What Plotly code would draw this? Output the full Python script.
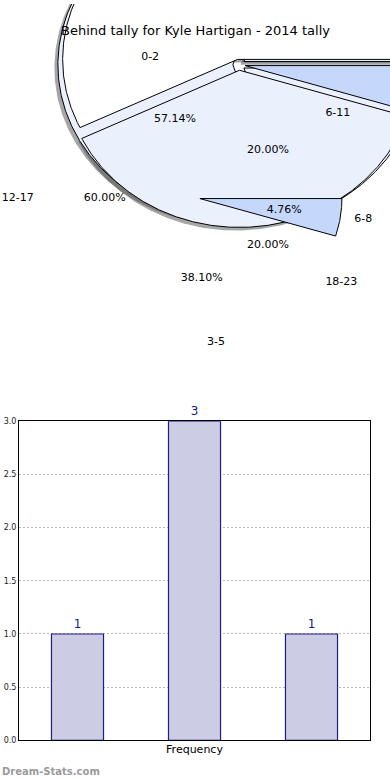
import numpy as np
import plotly.graph_objects as go

# ---------------- data ----------------
title_text = "Behind tally for Kyle Hartigan - 2014 tally"
pie1_labels = ["0-2", "3-5", "6-8"]
pie1_values = [12, 8, 1]
pie2_labels = ["6-11", "12-17", "18-23"]
pie2_values = [1, 3, 1]
bar_categories = ["6-11", "12-17", "18-23"]
bar_values = [1, 3, 1]
y_tick_values = [0.0, 0.5, 1.0, 1.5, 2.0, 2.5, 3.0]
x_axis_title = "Frequency"
watermark = "Dream-Stats.com"

# ---------------- styles ----------------
FONT = "DejaVu Sans"
WHITE = "#ffffff"
LIGHT = "#eaf0fc"
BLUE = "#c5d8fc"
pie1_big_colors = [WHITE, LIGHT, BLUE]
pie2_big_colors = [LIGHT, LIGHT, LIGHT]
pie1_small_colors = [None, None, BLUE]
EXPLODE = 0.035
LABEL_DIST = 1.1
PCT_DIST = 0.6

# pie geometry (top panel uses pixel-like units, y downward)
BIG = dict(cx=239, cy=65, rx=175, ry=157)
SMALL = dict(cx=195, cy=198, rx=142, ry=127)
SHADOW_DX, SHADOW_DY = -0.02, 0.02


def wedges(values, cx, cy, rx, ry, explode):
    total = float(sum(values))
    start = 0.0
    out = []
    for v in values:
        t1 = start
        t2 = start + 360.0 * v / total
        mid = np.radians((t1 + t2) / 2)
        ex = cx + explode * rx * np.cos(mid)
        ey = cy - explode * ry * np.sin(mid)
        ts = np.radians(np.linspace(t1, t2, max(8, int((t2 - t1) * 2))))
        xs = np.concatenate([[ex], ex + rx * np.cos(ts), [ex]])
        ys = np.concatenate([[ey], ey - ry * np.sin(ts), [ey]])
        out.append(dict(x=xs, y=ys, mid=mid, ex=ex, ey=ey, frac=v / total))
        start = t2
    return out


fig = go.Figure()


def add_poly(xs, ys, fill, line_color, width):
    fig.add_trace(go.Scatter(
        x=xs, y=ys, mode="lines", fill="toself", fillcolor=fill,
        line=dict(color=line_color, width=width), xaxis="x", yaxis="y",
        hoverinfo="skip", showlegend=False))


big1 = wedges(pie1_values, **BIG, explode=EXPLODE)
big2 = wedges(pie2_values, **BIG, explode=EXPLODE)
small1 = wedges(pie1_values, **SMALL, explode=EXPLODE)
small2 = wedges(pie2_values, **SMALL, explode=EXPLODE)

# shadows
for w in big2 + big1:
    add_poly(w["x"] + SHADOW_DX * BIG["rx"], w["y"] + SHADOW_DY * BIG["ry"],
             "rgba(77,77,77,0.5)", "rgba(0,0,0,0)", 0)
# pie 2 (behind) and pie 1 (front), large rendering
for w, c in zip(big2, pie2_big_colors):
    add_poly(w["x"], w["y"], c, "#000000", 1)
for w, c in zip(big1, pie1_big_colors):
    add_poly(w["x"], w["y"], c, "#000000", 1)
# small rendering of pie 1 (only visible wedge)
for w, c in zip(small1, pie1_small_colors):
    if c is not None:
        add_poly(w["x"], w["y"], c, "#000000", 1)


def add_labels(ws, labels, geo):
    for w, lab in zip(ws, labels):
        cos, sin = np.cos(w["mid"]), np.sin(w["mid"])
        lx = w["ex"] + LABEL_DIST * geo["rx"] * cos
        ly = w["ey"] - LABEL_DIST * geo["ry"] * sin
        px = w["ex"] + PCT_DIST * geo["rx"] * cos
        py = w["ey"] - PCT_DIST * geo["ry"] * sin
        pos = "middle right" if cos > 0 else "middle left"
        fig.add_trace(go.Scatter(
            x=[lx], y=[ly], mode="text", text=[lab], textposition=pos,
            textfont=dict(family=FONT, size=11, color="#000000"),
            xaxis="x", yaxis="y", cliponaxis=False, hoverinfo="skip",
            showlegend=False))
        fig.add_trace(go.Scatter(
            x=[px], y=[py], mode="text", text=["%.2f%%" % (100 * w["frac"])],
            textposition="middle center",
            textfont=dict(family=FONT, size=11, color="#000000"),
            xaxis="x", yaxis="y", cliponaxis=False, hoverinfo="skip",
            showlegend=False))


add_labels(small1, pie1_labels, SMALL)
add_labels(small2, pie2_labels, SMALL)

# ---------------- bar chart ----------------
fig.add_trace(go.Bar(
    x=list(range(len(bar_values))), y=bar_values, width=0.445,
    marker=dict(color="#ccccE5", line=dict(color="#1a1a8c", width=1.2)),
    text=[str(v) for v in bar_values], textposition="outside",
    textfont=dict(family=FONT, size=12, color="#1a1a8c"),
    cliponaxis=False, xaxis="x2", yaxis="y2", hoverinfo="skip",
    showlegend=False))

W, H = 390, 780
fig.update_layout(
    width=W, height=H, margin=dict(l=0, r=0, t=0, b=0),
    paper_bgcolor="white", plot_bgcolor="rgba(0,0,0,0)",
    showlegend=False, hovermode=False,
    font=dict(family=FONT, color="#000000"),
    xaxis=dict(domain=[0, 1], range=[0, 390], visible=False, fixedrange=True),
    yaxis=dict(domain=[0.5, 1], range=[389.4, 4.3], visible=False,
               fixedrange=True),
    xaxis2=dict(domain=[19 / W, 370 / W], range=[-0.5, len(bar_values) - 0.5],
                anchor="y2", showticklabels=False, ticks="", showgrid=False,
                zeroline=False, showline=True, mirror=True, linecolor="#000000",
                linewidth=1, fixedrange=True,
                title=dict(text=x_axis_title, font=dict(family=FONT, size=11),
                           standoff=4)),
    yaxis2=dict(domain=[1 - 745 / H, 1 - 422 / H], range=[0, 3], anchor="x2",
                tickvals=y_tick_values, tickformat=".1f", fixedrange=True,
                tickfont=dict(family=FONT, size=8, color="#222222"),
                ticks="", ticklen=0, showgrid=True, gridcolor="#b8b8b8",
                griddash="2px,2px", gridwidth=1, zeroline=False, showline=True,
                mirror=True, linecolor="#000000", linewidth=1),
    bargap=0.5,
    annotations=[
        dict(text=title_text, x=195 / W, y=1 - 27 / H, xref="paper",
             yref="paper", showarrow=False, xanchor="center", yanchor="middle",
             font=dict(family=FONT, size=13, color="#000000")),
        dict(text="<b>" + watermark + "</b>", x=0, y=1 - 776 / H,
             xref="paper", yref="paper", showarrow=False, xanchor="left",
             yanchor="middle",
             font=dict(family=FONT, size=10, color="#9a9a9a")),
    ],
)

fig.write_html(
    "out.html",
    config={"displayModeBar": False, "staticPlot": True},
    post_script="document.body.style.margin='0';document.body.style.overflow='hidden';",
)
